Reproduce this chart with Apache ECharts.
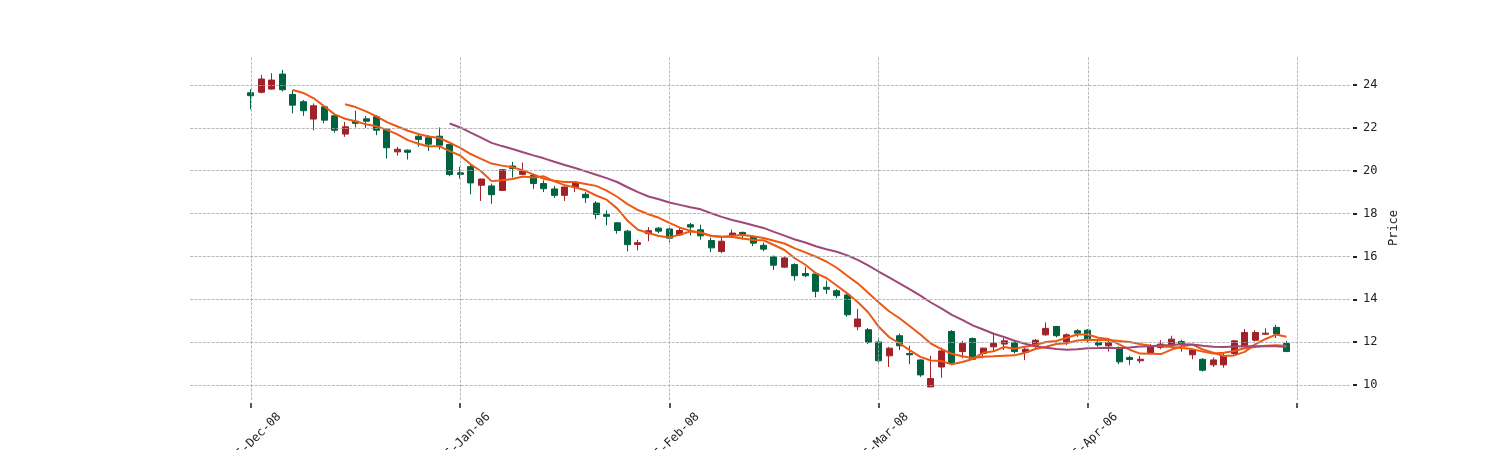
<!DOCTYPE html>
<html>
<head>
<meta charset="utf-8">
<script src="https://cdn.jsdelivr.net/npm/echarts@6/dist/echarts.min.js"></script>
<style>
html,body{margin:0;padding:0;background:#fff;}
#chart{width:1500px;height:450px;}
</style>
</head>
<body>
<div id="chart"></div>
<script>
// ---- data ----
const dates = [
'2005-12-08','2005-12-09','2005-12-12','2005-12-13','2005-12-14','2005-12-15','2005-12-16','2005-12-19','2005-12-20','2005-12-21',
'2005-12-22','2005-12-23','2005-12-27','2005-12-28','2005-12-29','2005-12-30','2006-01-02','2006-01-03','2006-01-04','2006-01-05',
'2006-01-06','2006-01-09','2006-01-10','2006-01-11','2006-01-12','2006-01-13','2006-01-17','2006-01-18','2006-01-19','2006-01-20',
'2006-01-23','2006-01-24','2006-01-25','2006-01-26','2006-01-27','2006-02-01','2006-02-02','2006-02-03','2006-02-06','2006-02-07',
'2006-02-08','2006-02-09','2006-02-10','2006-02-13','2006-02-14','2006-02-15','2006-02-16','2006-02-17','2006-02-20','2006-02-21',
'2006-02-22','2006-02-23','2006-02-24','2006-02-27','2006-02-28','2006-03-01','2006-03-02','2006-03-03','2006-03-06','2006-03-07',
'2006-03-08','2006-03-09','2006-03-10','2006-03-13','2006-03-14','2006-03-15','2006-03-16','2006-03-17','2006-03-20','2006-03-21',
'2006-03-22','2006-03-23','2006-03-24','2006-03-27','2006-03-28','2006-03-29','2006-03-30','2006-03-31','2006-04-04','2006-04-05',
'2006-04-06','2006-04-07','2006-04-10','2006-04-11','2006-04-12','2006-04-13','2006-04-14','2006-04-17','2006-04-18','2006-04-19',
'2006-04-20','2006-04-21','2006-04-24','2006-04-25','2006-04-26','2006-04-27','2006-04-28','2006-05-01','2006-05-02','2006-05-03'
];
const opens = [
23.64,23.66,23.81,24.51,23.56,23.22,22.41,22.98,22.56,21.71,
22.31,22.42,22.52,21.94,20.88,20.96,21.61,21.54,21.61,21.22,
19.90,20.19,19.32,19.29,19.08,20.22,19.83,19.79,19.40,19.15,
18.85,19.24,18.90,18.49,17.95,17.57,17.18,16.56,17.06,17.32,
17.28,17.00,17.48,17.24,16.74,16.23,16.99,17.12,16.90,16.52,
16.00,15.50,15.62,15.20,15.18,14.56,14.40,14.20,12.72,12.58,
12.01,11.36,12.30,11.47,11.17,9.91,10.84,12.50,11.56,12.17,
11.47,11.78,11.91,11.99,11.52,11.83,12.34,12.73,11.99,12.53,
12.56,11.99,11.83,11.75,11.28,11.13,11.47,11.75,11.86,12.03,
11.41,11.20,10.94,10.94,11.47,11.78,12.09,12.37,12.69,11.94
];
const closes = [
23.50,24.28,24.23,23.78,23.06,22.80,23.03,22.36,21.89,22.05,
22.21,22.31,21.89,21.07,21.00,20.86,21.46,21.24,21.19,19.82,
19.83,19.43,19.61,18.88,20.05,20.10,19.99,19.40,19.16,18.85,
19.24,19.43,18.74,17.96,17.87,17.21,16.55,16.64,17.20,17.18,
16.85,17.21,17.37,16.96,16.40,16.71,17.09,17.02,16.62,16.34,
15.59,15.93,15.10,15.10,14.37,14.47,14.17,13.28,13.08,11.98,
11.13,11.72,11.83,11.41,10.47,10.30,11.59,11.05,11.94,11.20,
11.72,11.94,12.06,11.56,11.67,12.09,12.64,12.30,12.34,12.42,
12.10,11.87,11.99,11.08,11.19,11.20,11.83,11.91,12.14,11.91,
11.63,10.69,11.17,11.36,12.06,12.45,12.45,12.42,12.38,11.56
];
const lows = [
22.86,23.61,23.78,23.70,22.67,22.56,21.88,22.21,21.77,21.58,
22.02,22.00,21.66,20.57,20.71,20.52,21.12,20.92,20.99,19.74,
19.63,18.90,18.59,18.46,19.05,19.68,19.80,19.16,19.00,18.73,
18.59,19.00,18.49,17.74,17.45,17.06,16.23,16.28,16.71,17.09,
16.66,16.95,16.98,16.78,16.20,16.15,16.87,16.78,16.48,16.24,
15.37,15.47,14.87,15.03,14.09,14.25,14.06,13.19,12.56,11.91,
11.05,10.84,11.63,10.97,10.38,9.91,10.34,10.97,11.25,11.17,
11.25,11.59,11.63,11.47,11.16,11.67,12.30,12.22,11.87,12.25,
11.99,11.78,11.56,10.97,10.94,11.02,11.44,11.67,11.75,11.56,
11.20,10.63,10.84,10.81,11.41,11.75,12.03,12.33,12.19,11.55
];
const highs = [
23.80,24.47,24.55,24.70,23.77,23.30,23.14,23.02,22.60,22.28,
22.80,22.55,22.60,21.97,21.11,20.99,21.68,21.66,22.02,21.27,
20.18,20.33,19.63,19.40,20.08,20.41,20.38,19.82,19.55,19.29,
19.26,19.52,19.00,18.58,18.15,17.60,17.24,16.78,17.37,17.37,
17.34,17.34,17.56,17.48,16.87,16.87,17.25,17.16,16.98,16.65,
16.04,16.01,15.68,15.50,15.26,14.87,14.48,14.25,13.55,12.66,
12.22,11.78,12.40,11.83,11.20,11.36,11.75,12.56,12.06,12.22,
11.75,12.45,12.19,12.06,11.75,12.14,12.92,12.76,12.41,12.61,
12.61,12.09,12.06,11.80,11.36,11.36,11.91,12.09,12.30,12.11,
11.67,11.25,11.28,11.52,12.09,12.61,12.56,12.65,12.81,12.06
];
const maPeriods = [5, 10, 20];
const maColors = ['#ef5714', '#ef5714', '#9f4878'];
const xTickValues = [0, 20, 40, 60, 80, 100];
const yTickValues = [10, 12, 14, 16, 18, 20, 22, 24];
const yAxisName = 'Price';

// ---- build ----
const MONTHS = ['Jan','Feb','Mar','Apr','May','Jun','Jul','Aug','Sep','Oct','Nov','Dec'];
function fmtDate(i) {
  const d = dates[Math.round(i)];
  if (!d) return '';
  const p = d.split('-');
  return p[0] + '-' + MONTHS[parseInt(p[1], 10) - 1] + '-' + p[2];
}
const candleData = dates.map((d, i) => [i, opens[i], closes[i], lows[i], highs[i]]);
function movingAverage(n) {
  const out = [];
  for (let i = n - 1; i < closes.length; i++) {
    let s = 0;
    for (let k = i - n + 1; k <= i; k++) s += closes[k];
    out.push([i, s / n]);
  }
  return out;
}
const FONT = 'DejaVu Sans Mono';
const gridLineStyle = { type: [3, 1.3], color: '#a8a8a8', width: 0.8 };

const series = [
  {
    type: 'line', data: [], z: 1, silent: true,
    markLine: {
      silent: true, symbol: ['none', 'none'], animation: false,
      label: { show: false }, lineStyle: gridLineStyle,
      emphasis: { disabled: true },
      data: xTickValues.map(v => ({ xAxis: v })).concat(yTickValues.map(v => ({ yAxis: v })))
    }
  },
  {
    type: 'candlestick', z: 2,
    data: candleData,
    encode: { x: 0, y: [1, 2, 3, 4] },
    barWidth: 6.5,
    itemStyle: {
      color: '#A02128', color0: '#006340',
      borderColor: '#A02128', borderColor0: '#006340',
      borderWidth: 1
    }
  }
];
maPeriods.forEach((n, k) => {
  series.push({
    type: 'line', z: 3, data: movingAverage(n), showSymbol: false, symbol: 'none',
    lineStyle: { color: maColors[k], width: 2 }, silent: true
  });
});

const chart = echarts.init(document.getElementById('chart'), null, { renderer: 'canvas' });
chart.setOption({
  animation: false,
  backgroundColor: '#ffffff',
  grid: { left: 190, right: 150, top: 56, bottom: 50, containLabel: false, outerBoundsMode: 'none' },
  xAxis: {
    type: 'value', min: -5.83, max: 105.07, offset: 3,
    splitLine: { show: false }, axisLine: { show: false, onZero: false },
    axisTick: { show: true, length: 5, lineStyle: { color: '#222', width: 1.5 }, customValues: xTickValues },
    axisLabel: {
      customValues: xTickValues, formatter: v => fmtDate(v),
      rotate: 45, align: 'center', verticalAlign: 'middle', margin: 40,
      fontFamily: FONT, fontSize: 12, color: '#222'
    }
  },
  yAxis: {
    type: 'value', position: 'right', min: 9.30, max: 25.353, offset: 3,
    splitLine: { show: false }, axisLine: { show: false, onZero: false },
    axisTick: { show: true, length: 4, lineStyle: { color: '#222', width: 2 }, customValues: yTickValues },
    axisLabel: { customValues: yTickValues, margin: 10, fontFamily: FONT, fontSize: 12, color: '#222' },
    name: yAxisName, nameLocation: 'middle', nameRotate: 90, nameGap: 31,
    nameTextStyle: { fontFamily: FONT, fontSize: 12, color: '#222' }
  },
  series: series
});
</script>
</body>
</html>
